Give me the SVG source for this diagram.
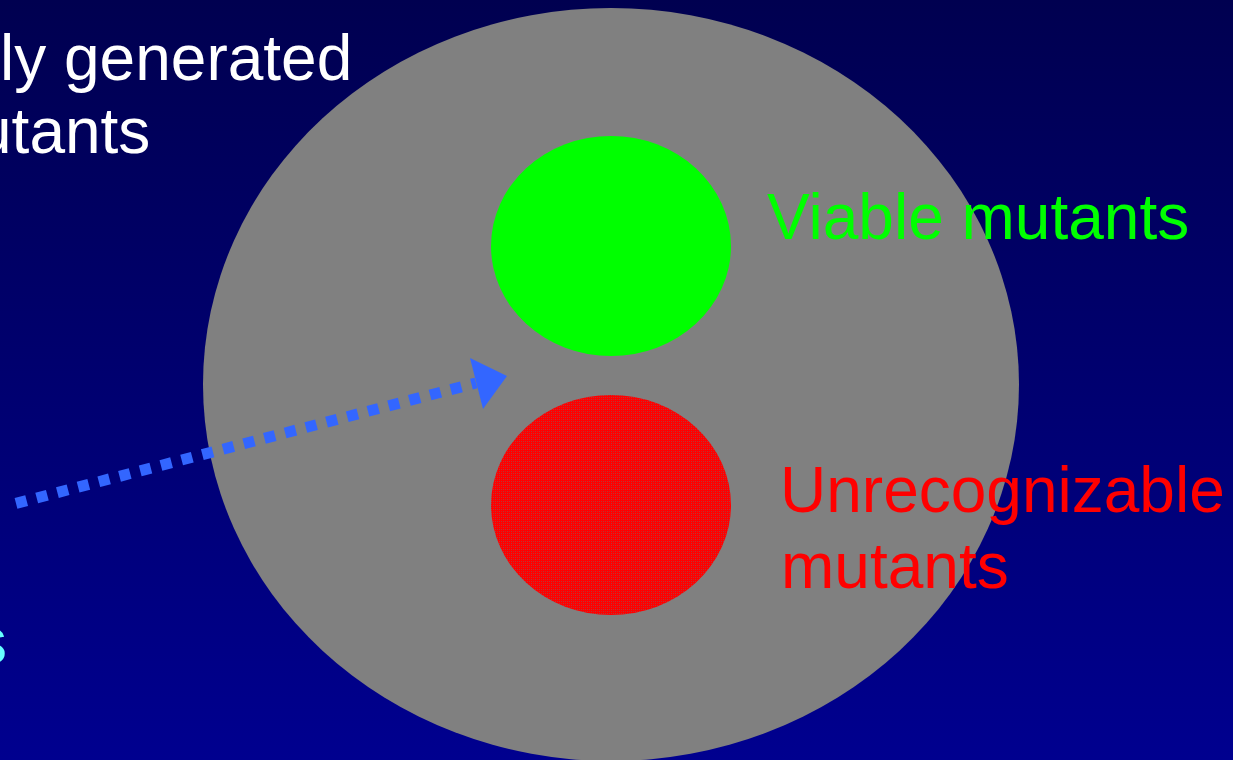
<svg xmlns="http://www.w3.org/2000/svg" width="1233" height="760" viewBox="0 0 1233 760">
  <defs>
    <linearGradient id="bg" x1="0" y1="0" x2="0" y2="1">
      <stop offset="0" stop-color="#000050"/>
      <stop offset="1" stop-color="#00008f"/>
    </linearGradient>
    <pattern id="redtex" width="4" height="4" patternUnits="userSpaceOnUse">
      <rect width="4" height="4" fill="#ff0000"/>
      <rect x="1" y="1" width="1" height="1" fill="#b03a3a"/>
      <rect x="3" y="3" width="1" height="1" fill="#b03a3a"/>
      <rect x="3" y="1" width="1" height="1" fill="#c83030"/>
      <rect x="1" y="3" width="1" height="1" fill="#d82020"/>
    </pattern>
    <style>
      .t { font-family: "Liberation Sans", Arial, sans-serif; font-size: 64px; }
    </style>
  </defs>
  <rect width="1233" height="760" fill="url(#bg)"/>

  <g id="universe">
    <ellipse cx="611" cy="384.5" rx="408" ry="376.5" fill="#808080"/>
  </g>

  <g id="generated-label">
    <text class="t" x="0" y="80" fill="#ffffff">ly generated</text>
    <text class="t" x="-24" y="153" fill="#ffffff">utants</text>
  </g>

  <g id="cyan-label">
    <text class="t" x="-25" y="663" fill="#66ffff">s</text>
  </g>

  <g id="viable">
    <ellipse cx="611" cy="246" rx="120" ry="110" fill="#00ff00"/>
    <text class="t" x="767" y="239" fill="#00ff00">Viable mutants</text>
  </g>

  <g id="unrecognizable">
    <ellipse cx="611" cy="505" rx="120" ry="110" fill="url(#redtex)"/>
    <text class="t" x="780" y="512" fill="#ff0000">Unrecognizable</text>
    <text class="t" x="781" y="588" fill="#ff0000">mutants</text>
  </g>

  <g id="connectors">
    <line x1="16" y1="503.4" x2="476" y2="383" stroke="#3366ff" stroke-width="11" stroke-dasharray="11 10.4"/>
    <polygon points="507,376 470,358 483,409" fill="#3366ff"/>
  </g>
</svg>
